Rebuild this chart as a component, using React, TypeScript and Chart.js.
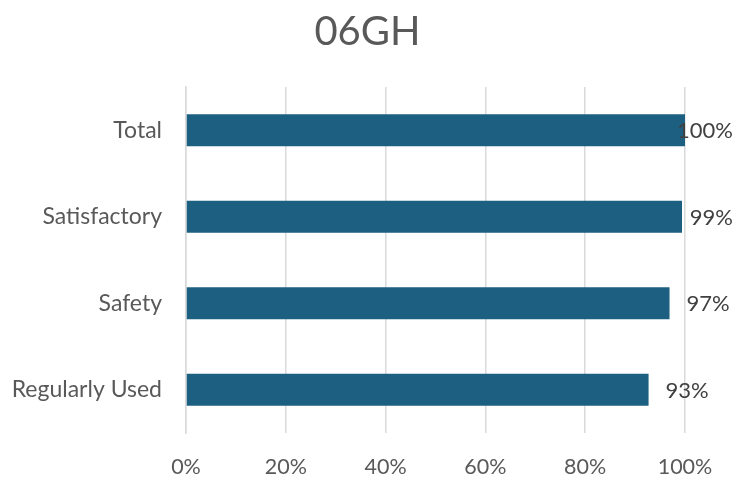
import React, { useEffect, useRef } from "react";
import { Chart, registerables } from "chart.js";

Chart.register(...registerables);

const chartTitle = "06GH";
const categories = ["Total", "Satisfactory", "Safety", "Regularly Used"];
const shares = [100, 99.4, 96.9, 92.7];
const xTicks = [0, 20, 40, 60, 80, 100];

const FONT = "Lato, 'Open Sans', sans-serif";
const BAR = "#1d5f80";
const TEXT = "#595959";
const LABEL = "#404040";
const GRID = "#d9d9d9";

// Title centred across the whole canvas rather than the plot region.
const centredTitle = {
  id: "centredTitle",
  afterDraw(chart: any) {
    const { ctx } = chart;
    ctx.save();
    ctx.font = `40px ${FONT}`;
    ctx.fillStyle = TEXT;
    ctx.textAlign = "center";
    ctx.textBaseline = "middle";
    ctx.fillText(chartTitle, chart.width / 2, 32);
    ctx.restore();
  },
};

// Writes each bar's rounded share just past its end, kept inside the canvas.
const valueLabels = {
  id: "valueLabels",
  afterDatasetsDraw(chart: any) {
    const { ctx } = chart;
    const meta = chart.getDatasetMeta(0);
    ctx.save();
    ctx.font = `22px ${FONT}`;
    ctx.fillStyle = LABEL;
    ctx.textBaseline = "middle";
    ctx.textAlign = "left";
    meta.data.forEach((bar: any, i: number) => {
      const text = `${Math.round(shares[i])}%`;
      const w = ctx.measureText(text).width;
      const x = Math.min(bar.x + 17, chart.width - 2 - w);
      ctx.fillText(text, x, bar.y + 1);
    });
    ctx.restore();
  },
};

export default function App() {
  const ref = useRef<HTMLCanvasElement | null>(null);

  useEffect(() => {
    if (!ref.current) return;
    const chart = new Chart(ref.current, {
      type: "bar",
      data: {
        labels: categories,
        datasets: [
          {
            data: shares,
            backgroundColor: BAR,
            borderWidth: 0,
            categoryPercentage: 1,
            barPercentage: 0.37,
          },
        ],
      },
      options: {
        indexAxis: "y",
        animation: false,
        responsive: false,
        maintainAspectRatio: false,
        layout: { padding: { left: 0, right: 50, top: 87, bottom: 0 } },
        plugins: {
          legend: { display: false },
          tooltip: { enabled: false },
          title: { display: false },
        },
        scales: {
          x: {
            min: 0,
            max: 100,
            afterBuildTicks: (scale: any) => {
              scale.ticks = xTicks.map((v) => ({ value: v }));
            },
            afterFit: (scale: any) => {
              scale.height = 44;
            },
            grid: { color: GRID, lineWidth: 1.5, drawTicks: false },
            border: { display: false },
            ticks: {
              padding: 21,
              color: TEXT,
              font: { family: FONT, size: 21.5 },
              callback: (v: any) => `${v}%`,
            },
          },
          y: {
            afterFit: (scale: any) => {
              scale.width = 186;
            },
            grid: { display: false, drawTicks: false },
            border: { display: true, color: GRID, width: 1.5 },
            ticks: {
              padding: 24,
              color: TEXT,
              font: { family: FONT, size: 23 },
            },
          },
        },
      },
      plugins: [valueLabels, centredTitle],
    });
    return () => chart.destroy();
  }, []);

  return (
    <div style={{ position: "fixed", left: 0, top: 0, width: 735, height: 477, background: "#fff" }}>
      <canvas ref={ref} width={735} height={477} />
    </div>
  );
}
